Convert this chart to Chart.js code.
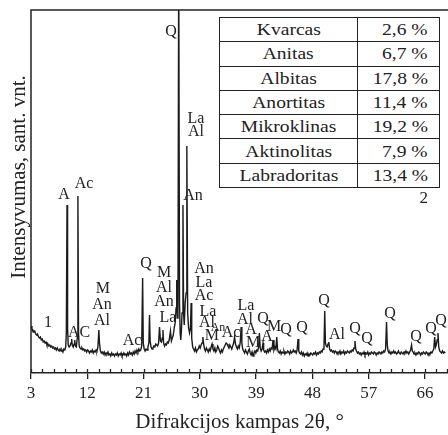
<!DOCTYPE html>
<html>
<head>
<meta charset="utf-8">
<script src="https://cdn.jsdelivr.net/npm/chart.js@4"></script>
<style>
  body { margin: 0; background: #fff; }
  #wrap { position: relative; width: 448px; height: 435px; }
  #phases { position: absolute; left: 219px; top: 17px; width: 221px; border-collapse: collapse;
            font: 17px "Liberation Serif", serif; color: #222; background: #fff; }
  #phases td { border: 1px solid #222; height: 23.3px; padding: 0; line-height: 1; white-space: nowrap; }
  #phases td.name { width: 137px; text-align: center; }
  #phases td.share { text-align: right; padding-right: 11px; }
  #phases span { display: inline-block; transform: scaleX(1.15); }
  #phases td.share span { transform-origin: right center; }
  #sample { position: absolute; left: 400px; width: 28px; top: 188px; text-align: right;
            font: 17px "Liberation Serif", serif; color: #222; }
</style>
</head>
<body>
<div id="wrap">
  <canvas id="xrd" width="448" height="435"></canvas>
  <table id="phases"></table>
  <div id="sample">2</div>
</div>
<script>
// phase composition (table)
const phaseNames = ["Kvarcas", "Anitas", "Albitas", "Anortitas", "Mikroklinas", "Aktinolitas", "Labradoritas"];
const phaseShares = ["2,6 %", "6,7 %", "17,8 %", "11,4 %", "19,2 %", "7,9 %", "13,4 %"];

// x axis tick labels
const majorTicks = [3, 12, 21, 30, 39, 48, 57, 66];

// diffraction pattern: [2theta, intensity]
const pattern = [
  [3.00,47],[3.15,44],[3.3,43],[3.45,41],[3.6,42],[3.75,39],[3.9,38],[4.05,39],[4.2,36],[4.35,35],
  [4.5,36],[4.65,33],[4.8,34],[4.95,31],[5.1,32],[5.25,30],[5.4,31],[5.55,28],[5.7,29],[5.85,27],
  [6.0,28],[6.15,26],[6.3,27],[6.45,25],[6.6,26],[6.75,24],[6.9,25],[7.05,23],[7.2,25],[7.35,23],
  [7.5,22],[7.65,24],[7.8,22],[7.95,23],[8.1,21],[8.25,24],[8.4,23],[8.55,26],[8.65,40],[8.76,168],
  [8.85,45],[8.95,28],[9.1,26],[9.25,27],[9.4,30],[9.5,34],[9.6,28],[9.75,26],[9.9,29],[10.0,33],
  [10.1,27],[10.25,26],[10.4,35],[10.5,177],[10.6,40],[10.7,27],[10.85,25],[11.0,24],[11.15,25],[11.3,23],
  [11.45,24],[11.6,22],[11.75,23],[11.9,21],[12.05,23],[12.2,22],[12.35,20],[12.5,22],[12.65,21],[12.8,23],
  [12.95,20],[13.1,22],[13.25,21],[13.4,23],[13.55,22],[13.7,26],[13.85,43],[13.95,30],[14.1,22],[14.25,20],
  [14.4,21],[14.55,19],[14.7,21],[14.85,18],[15.0,20],[15.15,19],[15.3,21],[15.45,18],[15.6,19],[15.75,17],
  [15.9,20],[16.05,18],[16.2,19],[16.35,17],[16.5,19],[16.65,18],[16.8,20],[16.95,17],[17.1,19],[17.25,18],
  [17.4,20],[17.55,17],[17.7,18],[17.85,20],[18.0,18],[18.15,19],[18.3,17],[18.45,20],[18.6,18],[18.75,21],
  [18.9,19],[19.05,20],[19.2,18],[19.35,21],[19.5,19],[19.65,22],[19.8,20],[19.95,23],[20.1,21],[20.25,24],
  [20.4,22],[20.55,23],[20.7,27],[20.85,95],[20.95,30],[21.1,24],[21.25,22],[21.4,24],[21.55,23],[21.7,26],
  [21.85,30],[21.95,58],[22.05,32],[22.2,26],[22.35,24],[22.5,25],[22.65,27],[22.8,26],[22.95,29],[23.1,28],
  [23.25,27],[23.4,30],[23.55,46],[23.7,32],[23.85,31],[24.0,35],[24.1,43],[24.2,30],[24.35,27],[24.5,29],
  [24.65,28],[24.8,31],[24.95,30],[25.1,33],[25.3,42],[25.45,32],[25.6,35],[25.75,38],[25.9,45],[26.05,50],
  [26.2,65],[26.3,93],[26.4,55],[26.5,60],[26.62,420],[26.75,70],[26.85,40],[26.95,33],[27.05,42],[27.15,60],
  [27.3,168],[27.4,60],[27.5,48],[27.65,70],[27.8,80],[27.92,227],[28.05,60],[28.2,45],[28.35,40],[28.5,45],
  [28.6,70],[28.7,35],[28.85,26],[29.0,24],[29.15,22],[29.3,25],[29.45,21],[29.6,23],[29.75,24],[29.9,27],
  [30.05,25],[30.2,28],[30.35,30],[30.48,36],[30.6,29],[30.75,24],[30.9,22],[31.05,25],[31.2,23],[31.35,21],
  [31.5,24],[31.65,22],[31.8,26],[31.95,29],[32.1,24],[32.25,22],[32.4,25],[32.55,21],[32.7,23],[32.85,27],
  [33.0,25],[33.15,22],[33.3,20],[33.45,23],[33.6,21],[33.75,24],[33.9,26],[34.05,28],[34.2,30],[34.35,29],
  [34.5,27],[34.65,25],[34.8,28],[34.95,26],[35.1,24],[35.25,27],[35.4,30],[35.55,36],[35.7,29],[35.85,26],
  [36.0,24],[36.15,27],[36.3,25],[36.45,30],[36.6,46],[36.72,30],[36.85,24],[37.0,22],[37.15,20],[37.3,23],
  [37.45,21],[37.6,19],[37.75,22],[37.9,24],[38.05,20],[38.2,18],[38.35,21],[38.5,17],[38.65,20],[38.8,22],
  [38.95,20],[39.1,23],[39.25,22],[39.4,26],[39.52,40],[39.65,25],[39.8,22],[39.95,24],[40.1,30],[40.2,23],
  [40.35,21],[40.5,22],[40.65,20],[40.8,23],[40.95,21],[41.1,24],[41.25,22],[41.4,25],[41.55,24],[41.7,33],
  [41.85,23],[42.0,26],[42.15,24],[42.3,36],[42.42,24],[42.55,21],[42.7,20],[42.85,22],[43.0,19],[43.15,21],
  [43.3,20],[43.45,22],[43.6,19],[43.75,21],[43.9,20],[44.05,22],[44.2,21],[44.35,19],[44.5,22],[44.65,20],
  [44.8,21],[44.95,23],[45.1,21],[45.25,22],[45.4,20],[45.55,23],[45.7,34],[45.82,22],[45.95,20],[46.1,19],
  [46.25,21],[46.4,18],[46.55,20],[46.7,17],[46.85,19],[47.0,18],[47.15,20],[47.3,17],[47.45,19],[47.6,18],
  [47.75,20],[47.9,19],[48.05,18],[48.2,20],[48.35,19],[48.5,21],[48.65,18],[48.8,20],[48.95,19],[49.1,21],
  [49.25,20],[49.4,22],[49.55,21],[49.7,24],[49.85,27],[49.97,62],[50.08,30],[50.2,27],[50.35,26],[50.5,29],
  [50.62,31],[50.75,24],[50.9,22],[51.05,23],[51.2,21],[51.35,22],[51.5,20],[51.65,22],[51.8,21],[51.95,19],
  [52.1,21],[52.25,20],[52.4,22],[52.55,19],[52.7,21],[52.85,20],[53.0,22],[53.15,19],[53.3,21],[53.45,20],
  [53.6,22],[53.75,21],[53.9,20],[54.05,22],[54.2,21],[54.35,23],[54.5,22],[54.65,25],[54.8,32],[54.92,24],
  [55.05,22],[55.2,20],[55.35,21],[55.5,19],[55.65,20],[55.8,18],[55.95,20],[56.1,19],[56.25,21],[56.4,18],
  [56.55,20],[56.7,19],[56.85,21],[57.0,18],[57.15,20],[57.3,19],[57.45,21],[57.6,20],[57.75,19],[57.9,21],
  [58.05,20],[58.2,18],[58.35,20],[58.5,19],[58.65,21],[58.8,20],[58.95,19],[59.1,21],[59.25,20],[59.4,22],
  [59.55,21],[59.7,24],[59.85,51],[59.97,28],[60.1,22],[60.25,20],[60.4,21],[60.55,19],[60.7,21],[60.85,20],
  [61.0,22],[61.15,20],[61.3,21],[61.45,19],[61.6,20],[61.75,22],[61.9,20],[62.05,19],[62.2,21],[62.35,20],
  [62.5,19],[62.65,21],[62.8,20],[62.95,22],[63.1,20],[63.25,21],[63.4,19],[63.55,21],[63.7,23],[63.85,28],
  [63.97,22],[64.1,21],[64.25,19],[64.4,20],[64.55,18],[64.7,20],[64.85,19],[65.0,21],[65.15,20],[65.3,18],
  [65.45,20],[65.6,19],[65.75,21],[65.9,20],[66.05,19],[66.2,21],[66.35,20],[66.5,18],[66.65,20],[66.8,19],
  [66.95,21],[67.1,20],[67.25,22],[67.4,24],[67.55,36],[67.68,26],[67.8,28],[67.95,33],[68.08,40],[68.2,26],
  [68.35,22],[68.5,21],[68.65,20],[68.8,22],[68.95,20],[69.1,21],[69.25,20]
];

// phase labels over the peaks: [text, 2theta, intensity, font size]
const peakLabels = [
  ["1", 5.72, 51, 16],
  ["A", 8.28, 179, 16], ["Ac", 11.47, 190, 16], ["AC", 10.68, 41, 16],
  ["M", 14.51, 85, 16], ["An", 14.35, 69, 16], ["Al", 14.35, 53, 16],
  ["Ac", 19.15, 33, 16], ["Q", 21.39, 110, 16],
  ["M", 24.27, 101, 16], ["Al", 24.27, 86, 16], ["An", 24.27, 72, 16], ["La", 24.91, 56, 16],
  ["Q", 25.39, 342, 16], ["La", 29.38, 255, 16], ["Al", 29.38, 242, 16], ["An", 28.9, 178, 16],
  ["An", 30.66, 105, 16], ["La", 30.66, 91, 16], ["Ac", 30.66, 78, 16],
  ["La", 31.3, 62, 16], ["Al", 31.14, 51, 16], ["An", 32.9, 46, 12], ["M", 31.94, 38, 16],
  ["Ac", 34.98, 41, 16],
  ["La", 37.38, 68, 16], ["Al", 37.22, 54, 16], ["A", 38.18, 44, 16], ["M", 38.5, 31, 16],
  ["Q", 40.1, 55, 16], ["A", 40.74, 37, 16], ["M", 41.86, 47, 16], ["Q", 43.77, 44, 16],
  ["Q", 46.33, 46, 16], ["Q", 49.85, 73, 16], ["Al", 51.93, 39, 16],
  ["Q", 54.81, 45, 16], ["Q", 56.73, 35, 16], ["Q", 60.4, 60, 16],
  ["Q", 64.56, 37, 16], ["Q", 66.96, 45, 16], ["Q", 68.56, 53, 16]
];

const table = document.getElementById("phases");
phaseNames.forEach((name, i) => {
  const tr = document.createElement("tr");
  tr.innerHTML = `<td class="name"><span>${name}</span></td><td class="share"><span>${phaseShares[i]}</span></td>`;
  table.appendChild(tr);
});

const SERIF = '"Liberation Serif", "Times New Roman", serif';

// frame, inner minor ticks, peak labels and axis titles
const decor = {
  id: "decor",
  afterDraw(chart) {
    const { ctx, chartArea: a, scales } = chart;
    const xs = scales.x, ys = scales.y;
    ctx.save();
    ctx.strokeStyle = "#222";
    ctx.lineWidth = 1.5;
    ctx.beginPath();
    ctx.moveTo(a.left, a.bottom);
    ctx.lineTo(a.left, a.top);
    ctx.lineTo(chart.width, a.top);
    ctx.stroke();

    ctx.lineWidth = 1.3;
    ctx.beginPath();
    for (let v = xs.min; v <= xs.max + 0.01; v += 1.8) {
      const px = Math.round(xs.getPixelForValue(v)) + 0.5;
      ctx.moveTo(px, a.bottom);
      ctx.lineTo(px, a.bottom - 4);
    }
    ctx.stroke();

    ctx.fillStyle = "#222";
    ctx.textAlign = "center";
    ctx.textBaseline = "alphabetic";
    peakLabels.forEach(([t, x, y, size]) => {
      ctx.font = `${size}px ${SERIF}`;
      ctx.fillText(t, xs.getPixelForValue(x), ys.getPixelForValue(y) + size * 0.34);
    });

    ctx.font = `21px ${SERIF}`;
    ctx.fillText("Difrakcijos kampas 2θ, °", (a.left + a.right) / 2, 428);

    ctx.translate(25, 177);
    ctx.rotate(-Math.PI / 2);
    ctx.fillText("Intensyvumas, sant. vnt.", 0, 0);
    ctx.restore();
  }
};

new Chart(document.getElementById("xrd"), {
  type: "line",
  data: {
    datasets: [{
      data: pattern.map(([x, y]) => ({ x, y })),
      borderColor: "#1b1b1b",
      borderWidth: 1.4,
      pointRadius: 0,
      tension: 0,
      fill: false
    }]
  },
  options: {
    responsive: false,
    animation: false,
    layout: { padding: { left: 31, top: 10, right: 0, bottom: 30 } },
    plugins: { legend: { display: false }, tooltip: { enabled: false } },
    scales: {
      x: {
        type: "linear",
        min: 3,
        max: 69.68,
        afterBuildTicks: (s) => { s.ticks = majorTicks.map((v) => ({ value: v })); },
        afterFit: (s) => { s.height = 32; },
        ticks: {
          font: { family: SERIF, size: 17 },
          color: "#222",
          padding: 4,
          maxRotation: 0,
          autoSkip: false,
          callback: (v) => v
        },
        grid: { drawOnChartArea: false, tickLength: 6, color: "#222", lineWidth: 1.3 },
        border: { color: "#222", width: 1.5 }
      },
      y: { display: false, min: 0, max: 363 }
    }
  },
  plugins: [decor]
});
</script>
</body>
</html>
